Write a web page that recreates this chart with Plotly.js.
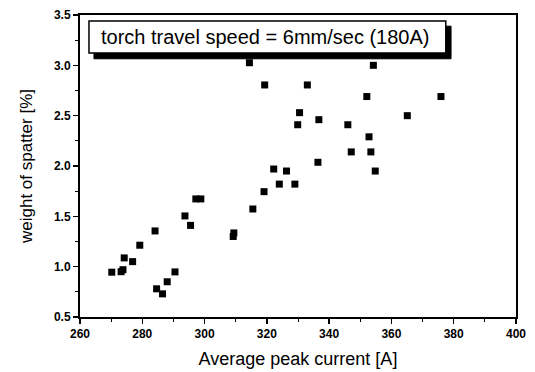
<!DOCTYPE html>
<html>
<head>
<meta charset="utf-8">
<script src="https://cdn.plot.ly/plotly-3.0.1.min.js"></script>
<style>html,body{margin:0;padding:0;background:#fff;}#chart{width:535px;height:372px;}</style>
</head>
<body>
<div id="chart"></div>
<script>
const peakCurrent = [270.2, 273.2, 273.8, 274.2, 276.9, 279.2, 284.1, 284.6, 286.5, 288.0, 290.5,
  293.7, 295.5, 297.2, 298.8, 309.2, 309.4, 314.4, 315.5, 319.1, 319.3, 322.2, 324.0, 326.3,
  329.0, 329.9, 330.5, 333.0, 336.4, 336.7, 346.0, 347.1, 352.1, 352.8, 353.4, 354.2, 354.8,
  365.1, 375.9];
const spatterWeight = [0.945, 0.95, 0.97, 1.087, 1.05, 1.213, 1.355, 0.78, 0.73, 0.85, 0.948,
  1.504, 1.41, 1.673, 1.673, 1.30, 1.335, 3.026, 1.573, 1.745, 2.805, 1.97, 1.82, 1.95,
  1.82, 2.41, 2.53, 2.805, 2.037, 2.46, 2.41, 2.14, 2.69, 2.29, 2.14, 3.0, 1.95,
  2.5, 2.69];
const xTickVals = [260, 280, 300, 320, 340, 360, 380, 400];
const yTickVals = [0.5, 1.0, 1.5, 2.0, 2.5, 3.0, 3.5];
const legendText = 'torch travel speed = 6mm/sec (180A)';
const xTitle = 'Average peak current [A]';
const yTitle = 'weight of spatter [%]';

const FONT = 'Liberation Sans, Arial, sans-serif';
const trace = {
  x: peakCurrent, y: spatterWeight, type: 'scatter', mode: 'markers',
  marker: {symbol: 'square', size: 7, color: '#000'}, showlegend: false, hoverinfo: 'skip'
};
const axisCommon = {
  showgrid: false, zeroline: false, showline: true, linecolor: '#000', linewidth: 2,
  mirror: true, ticks: 'outside', ticklen: 5, tickwidth: 1.5, tickcolor: '#000',
  tickfont: {family: FONT, size: 12, color: '#000'},
  automargin: false
};
const layout = {
  width: 535, height: 372,
  margin: {l: 80, r: 19, t: 15, b: 55},
  paper_bgcolor: '#fff', plot_bgcolor: '#fff',
  xaxis: Object.assign({}, axisCommon, {
    range: [260, 400], tickvals: xTickVals, ticktext: xTickVals.map(v => '<b>' + v + '</b>'),
    minor: {dtick: 10, tick0: 260, ticks: 'outside', ticklen: 3, tickcolor: '#000', tickwidth: 1},
    title: {text: xTitle, font: {family: FONT, size: 18, color: '#000'}, standoff: 12}
  }),
  yaxis: Object.assign({}, axisCommon, {
    range: [0.5, 3.5], tickvals: yTickVals, ticktext: yTickVals.map(v => '<b>' + v.toFixed(1) + '</b>'),
    minor: {dtick: 0.25, tick0: 0.5, ticks: 'outside', ticklen: 3, tickcolor: '#000', tickwidth: 1},
    title: {text: yTitle, font: {family: FONT, size: 17, color: '#000'}, standoff: 17}
  }),
  shapes: [
    {type: 'rect', xref: 'paper', yref: 'paper', layer: 'above', x0: 0.032, x1: 0.851, y0: 0.855, y1: 0.963,
     fillcolor: 'black', opacity: 1, line: {color: 'black', width: 1}},
    {type: 'rect', xref: 'paper', yref: 'paper', layer: 'above', x0: 0.0206, x1: 0.839, y0: 0.874, y1: 0.980,
     fillcolor: 'white', opacity: 1, line: {color: 'black', width: 1.5}}
  ],
  annotations: [
    {xref: 'paper', yref: 'paper', x: 0.043, y: 0.927, xanchor: 'left', yanchor: 'middle',
     text: legendText, showarrow: false, font: {family: FONT, size: 20, color: '#000'}}
  ]
};
Plotly.newPlot('chart', [trace], layout, {staticPlot: true, displayModeBar: false});
</script>
</body>
</html>
